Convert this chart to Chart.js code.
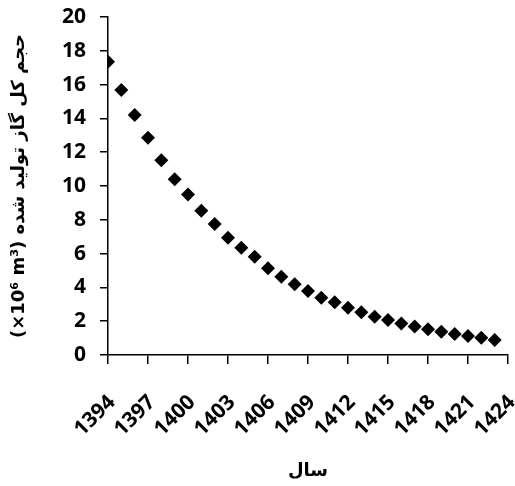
<!DOCTYPE html>
<html>
<head>
<meta charset="utf-8">
<script src="https://cdn.jsdelivr.net/npm/chart.js@4"></script>
<style>
  body { margin: 0; background: #fff; }
  canvas { display: block; }
</style>
</head>
<body>
<canvas id="myChart" width="515" height="486"></canvas>
<script>
// years on the x axis
let years = [1394, 1395, 1396, 1397, 1398, 1399, 1400, 1401, 1402, 1403,
             1404, 1405, 1406, 1407, 1408, 1409, 1410, 1411, 1412, 1413,
             1414, 1415, 1416, 1417, 1418, 1419, 1420, 1421, 1422, 1423];
// total gas volume produced (x10^6 m3)
let gasVolume = [17.35, 15.68, 14.2, 12.86, 11.52, 10.4, 9.5, 8.54, 7.75, 6.94,
                 6.35, 5.82, 5.13, 4.63, 4.18, 3.79, 3.39, 3.12, 2.8, 2.53,
                 2.27, 2.07, 1.87, 1.68, 1.52, 1.38, 1.24, 1.12, 1.02, 0.89];
let xTicks = [1394, 1397, 1400, 1403, 1406, 1409, 1412, 1415, 1418, 1421, 1424];
let yTicks = [0, 2, 4, 6, 8, 10, 12, 14, 16, 18, 20];

let yTitle = '(×10⁶ m³) حجم کل گاز تولید شده';
let xTitle = 'سال';

window.onload = function(e){
    let points = [];
    years.forEach((y, i) => {
        points.push({x: y, y: gasVolume[i]});
    });

    let ctx = document.getElementById('myChart').getContext('2d');
    let myChart = new Chart(ctx, {
        type: 'scatter',
        data: {
            datasets: [{
                data: points,
                pointStyle: 'rectRot',
                pointRadius: 7,
                pointHoverRadius: 7,
                backgroundColor: '#000',
                borderColor: '#000',
                borderWidth: 0
            }]
        },
        options: {
            responsive: false,
            animation: false,
            layout: {padding: {top: 4, right: 0, bottom: 4, left: 8}},
            plugins: {legend: {display: false}, tooltip: {enabled: false}},
            scales: {
                x: {
                    type: 'linear',
                    min: xTicks[0],
                    max: xTicks[xTicks.length - 1],
                    afterBuildTicks: axis => { axis.ticks = xTicks.map(v => ({value: v})); },
                    afterFit: s => { s.height = 127; s.paddingRight = 6; },
                    ticks: {
                        color: '#000',
                        font: {family: 'Open Sans', weight: 'bold', size: 21},
                        minRotation: 45,
                        maxRotation: 45,
                        autoSkip: false,
                        padding: 26,
                        labelOffset: 4,
                        callback: v => String(v)
                    },
                    grid: {drawOnChartArea: false, drawTicks: true, tickLength: 9, color: '#000', lineWidth: 1.5},
                    border: {display: true, color: '#000', width: 1.5},
                    title: {
                        display: true,
                        text: xTitle,
                        color: '#000',
                        font: {family: 'DejaVu Sans', weight: 'bold', size: 18},
                        padding: {top: 0, bottom: 0}
                    }
                },
                y: {
                    min: 0,
                    max: 20,
                    afterBuildTicks: axis => { axis.ticks = yTicks.map(v => ({value: v})); },
                    afterFit: s => { s.width = 100; s.paddingTop = 17; },
                    ticks: {
                        color: '#000',
                        font: {family: 'Open Sans', weight: 'bold', size: 21},
                        padding: 14
                    },
                    grid: {drawOnChartArea: false, drawTicks: true, tickLength: 8, color: '#000', lineWidth: 1.5},
                    border: {display: true, color: '#000', width: 1.5},
                    title: {
                        display: true,
                        text: yTitle,
                        color: '#000',
                        font: {family: 'DejaVu Sans', weight: 'bold', size: 18},
                        padding: {top: 1, bottom: 0}
                    }
                }
            }
        }
    });
}
</script>
</body>
</html>
